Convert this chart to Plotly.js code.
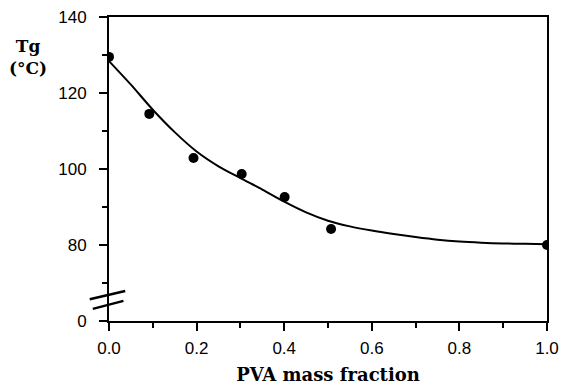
<!DOCTYPE html>
<html>
<head>
<meta charset="utf-8">
<script src="https://cdn.plot.ly/plotly-3.0.1.min.js"></script>
<style>html,body{margin:0;padding:0;background:#fff;}#chart{width:563px;height:385px;}</style>
</head>
<body>
<div id="chart"></div>
<script>
// Measured points (PVA mass fraction vs Tg, °C)
var pointX = [0.0, 0.092, 0.193, 0.303, 0.401, 0.507, 1.0];
var pointY = [129.5, 114.5, 102.9, 98.7, 92.6, 84.2, 80.0];

// Fitted curve
var curveX = [0.0, 0.05, 0.1, 0.15, 0.2, 0.25, 0.3, 0.35, 0.4, 0.45, 0.5, 0.55, 0.6, 0.65, 0.7, 0.75, 0.8, 0.85, 0.9, 0.95, 1.0];
var curveY = [128.4, 122.2, 115.6, 109.7, 104.6, 100.7, 97.6, 94.6, 91.4, 88.6, 86.4, 84.9, 83.8, 82.9, 82.1, 81.4, 80.9, 80.6, 80.4, 80.3, 80.2];

// Y tick values (axis is broken: bottom tick stands for 0)
var yTickVals = [60, 80, 100, 120, 140];
var yTickText = ["0", "80", "100", "120", "140"];

var traces = [
  {x: curveX, y: curveY, mode: 'lines', type: 'scatter',
   line: {color: '#000', width: 2, shape: 'spline', smoothing: 0.8}, hoverinfo: 'skip'},
  {x: pointX, y: pointY, mode: 'markers', type: 'scatter',
   marker: {color: '#000', size: 10}}
];

var tickFont = {family: 'Liberation Sans', size: 17, color: '#000'};

var layout = {
  width: 563, height: 385,
  margin: {l: 109, r: 16, t: 17, b: 64},
  paper_bgcolor: '#fff', plot_bgcolor: '#fff',
  showlegend: false,
  xaxis: {
    range: [0, 1], tickmode: 'linear', tick0: 0, dtick: 0.2, tickformat: '.1f',
    showgrid: false, zeroline: false, showline: true, mirror: true,
    linecolor: '#000', linewidth: 2,
    ticks: 'outside', ticklen: 8, tickwidth: 2, tickcolor: '#000',
    ticklabelstandoff: 3,
    minor: {tickmode: 'linear', tick0: 0, dtick: 0.1, ticks: 'outside', ticklen: 5, tickwidth: 2, tickcolor: '#000'},
    tickfont: tickFont,
    title: {text: 'PVA mass fraction', standoff: 14,
            font: {family: 'DejaVu Serif', size: 18, color: '#000', weight: 'bold'}}
  },
  yaxis: {
    range: [60, 140], tickmode: 'array', tickvals: yTickVals, ticktext: yTickText,
    showgrid: false, zeroline: false, showline: true, mirror: true,
    linecolor: '#000', linewidth: 2,
    ticks: 'outside', ticklen: 8, tickwidth: 2, tickcolor: '#000',
    ticklabelstandoff: 9,
    minor: {tickmode: 'linear', tick0: 60, dtick: 10, ticks: 'outside', ticklen: 5, tickwidth: 2, tickcolor: '#000'},
    tickfont: tickFont
  },
  annotations: [
    {text: '<b>Tg</b><br><b>(°C)</b>', xref: 'paper', yref: 'paper',
     x: -0.186, y: 0.868, xanchor: 'center', yanchor: 'middle', showarrow: false, align: 'center',
     font: {family: 'DejaVu Serif', size: 17, color: '#000'}}
  ],
  shapes: [
    {type: 'line', xref: 'paper', yref: 'y', x0: -0.044, y0: 65.7, x1: 0.037, y1: 67.9,
     line: {color: '#000', width: 2.5}},
    {type: 'line', xref: 'paper', yref: 'y', x0: -0.037, y0: 63.2, x1: 0.033, y1: 65.3,
     line: {color: '#000', width: 2.5}}
  ]
};

Plotly.newPlot('chart', traces, layout, {displayModeBar: false, staticPlot: true});
</script>
</body>
</html>
